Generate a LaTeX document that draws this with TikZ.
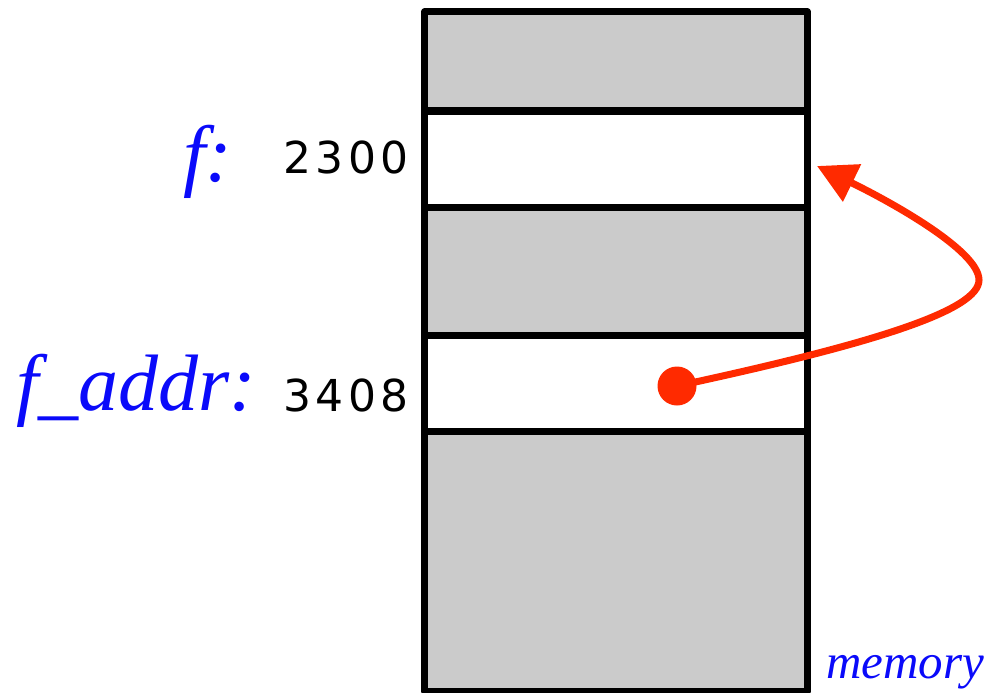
\documentclass[tikz,border=0pt]{standalone}
\usepackage{fontspec}
\setmainfont{Liberation Serif}
\newfontfamily\digfont{DejaVu Sans}
\usetikzlibrary{arrows.meta}
\definecolor{memgray}{RGB}{203,203,203}
\definecolor{ptrred}{RGB}{255,42,0}
\definecolor{lblblue}{RGB}{10,10,250}
\newcommand\dg[1]{\makebox[32.5pt]{#1}}
\tikzset{
  wall/.style={line width=7pt, line join=round, draw=black},
  varlabel/.style={inner sep=0pt, anchor=base west, text=lblblue, font=\fontsize{80}{84}\selectfont\itshape},
  addrlabel/.style={inner sep=0pt, anchor=base west, text=black, font=\fontsize{44}{48}\selectfont\digfont},
  pointer/.style={draw=ptrred, line width=7pt, -{Triangle[length=39pt,width=40pt]}},
  dotnode/.style={circle, fill=ptrred, inner sep=0pt, minimum size=39pt}
}
\begin{document}
\begin{tikzpicture}[x=1pt,y=-1pt]
\useasboundingbox (0,0) rectangle (986,693);
% memory column
\fill[memgray] (424.5,12) rectangle (807.5,691);
\fill[white] (424.5,111) rectangle (807.5,207);
\fill[white] (424.5,335) rectangle (807.5,431);
\draw[wall] (424.5,12) rectangle (807.5,691);
\draw[wall] (424.5,111) -- (807.5,111);
\draw[wall] (424.5,207) -- (807.5,207);
\draw[wall] (424.5,335) -- (807.5,335);
\draw[wall] (424.5,431) -- (807.5,431);
% labels
\node[varlabel] (flbl) at (183,181) {f:};
\node[addrlabel] (faddr) at (281,173) {\dg2\dg3\dg0\dg0};
\node[varlabel] (falbl) at (16,410) {f\_addr:};
\node[addrlabel] (aaddr) at (281,411) {\dg3\dg4\dg0\dg8};
\node[inner sep=0pt, anchor=base west, text=lblblue, font=\fontsize{49}{53}\selectfont\itshape] (mem) at (826,678) {memory};
% pointer
\coordinate (tip) at (817,166);
\node[dotnode] (dot) at (677,386) {};
\draw[pointer] (dot.center) .. controls (877,343) and (979,310) .. (979,280)
  .. controls (979,250) and (887,200) .. (tip);
\end{tikzpicture}
\end{document}
